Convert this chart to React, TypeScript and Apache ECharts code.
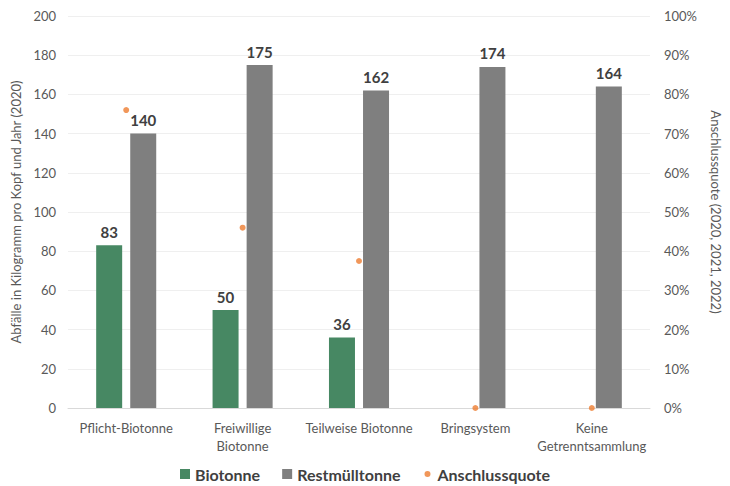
import React, { useEffect, useRef } from "react";
import * as echarts from "echarts";

const categories = ["Pflicht-Biotonne", "Freiwillige\nBiotonne", "Teilweise Biotonne", "Bringsystem", "Keine\nGetrenntsammlung"];
const biotonne = [83, 50, 36, 0, 0];
const restmuell = [140, 175, 162, 174, 164];
const anschlussquote = [76, 46, 37.5, 0, 0];

const FONT = "Lato";
const SMALL_DOT = "path://M0 0M10 10M5 2A3 3 0 1 1 5 8A3 3 0 1 1 5 2Z";

export default function App() {
  const ref = useRef<HTMLDivElement>(null);
  useEffect(() => {
    const chart = echarts.init(ref.current!, undefined, { renderer: "svg" });
    const labelStyle = {
      show: true,
      position: "top" as const,
      fontFamily: FONT,
      fontWeight: "bold" as const,
      fontSize: 15,
      color: "#404040",
      distance: 6,
      formatter: (p: any) => (p.value ? String(p.value) : ""),
    };
    chart.setOption({
      animation: false,
      textStyle: { fontFamily: FONT },
      grid: { left: 68, right: 74, top: 16, bottom: 78 },
      legend: {
        top: 461,
        left: "center",
        itemWidth: 10,
        itemHeight: 10,
        itemGap: 22,
        textStyle: { fontFamily: FONT, fontWeight: "bold", fontSize: 16, color: "#404040" },
        data: [
          { name: "Biotonne", icon: "rect" },
          { name: "Restmülltonne", icon: "rect" },
          { name: "Anschlussquote", icon: SMALL_DOT },
        ],
      },
      xAxis: {
        type: "category",
        data: categories,
        axisTick: { show: false },
        axisLine: { lineStyle: { color: "#d9d9d9" } },
        axisLabel: { color: "#595959", fontSize: 13, fontFamily: FONT, margin: 11, lineHeight: 18, interval: 0 },
      },
      yAxis: [
        {
          type: "value",
          min: 0,
          max: 200,
          interval: 20,
          name: "Abfälle in Kilogramm pro Kopf und Jahr (2020)",
          nameLocation: "middle",
          nameGap: 46,
          nameTextStyle: { color: "#595959", fontSize: 13, fontFamily: FONT },
          axisLabel: { color: "#595959", fontSize: 13, fontFamily: FONT, margin: 12 },
          splitLine: { lineStyle: { color: "#efefef" } },
          axisLine: { show: false },
          axisTick: { show: false },
        },
        {
          type: "value",
          min: 0,
          max: 100,
          interval: 10,
          position: "right",
          name: "Anschlussquote (2020, 2021, 2022)",
          nameLocation: "middle",
          nameRotate: -90,
          nameGap: 59,
          nameTextStyle: { color: "#595959", fontSize: 13, fontFamily: FONT },
          axisLabel: { color: "#595959", fontSize: 13, fontFamily: FONT, margin: 14, formatter: "{value}%" },
          splitLine: { show: false },
          axisLine: { show: false },
          axisTick: { show: false },
        },
      ],
      series: [
        {
          name: "Biotonne",
          type: "bar",
          data: biotonne,
          barWidth: 26,
          barGap: "31%",
          itemStyle: { color: "#478863" },
          label: labelStyle,
        },
        {
          name: "Restmülltonne",
          type: "bar",
          data: restmuell,
          barWidth: 26,
          itemStyle: { color: "#7f7f7f" },
          label: labelStyle,
        },
        {
          name: "Anschlussquote",
          type: "scatter",
          yAxisIndex: 1,
          data: anschlussquote,
          symbolSize: 6,
          itemStyle: { color: "#ed7d31" },
          z: 5,
        },
      ],
    });
    return () => chart.dispose();
  }, []);
  return <div ref={ref} style={{ width: 730, height: 486, position: "fixed", left: 0, top: 0, background: "#fff" }} />;
}
